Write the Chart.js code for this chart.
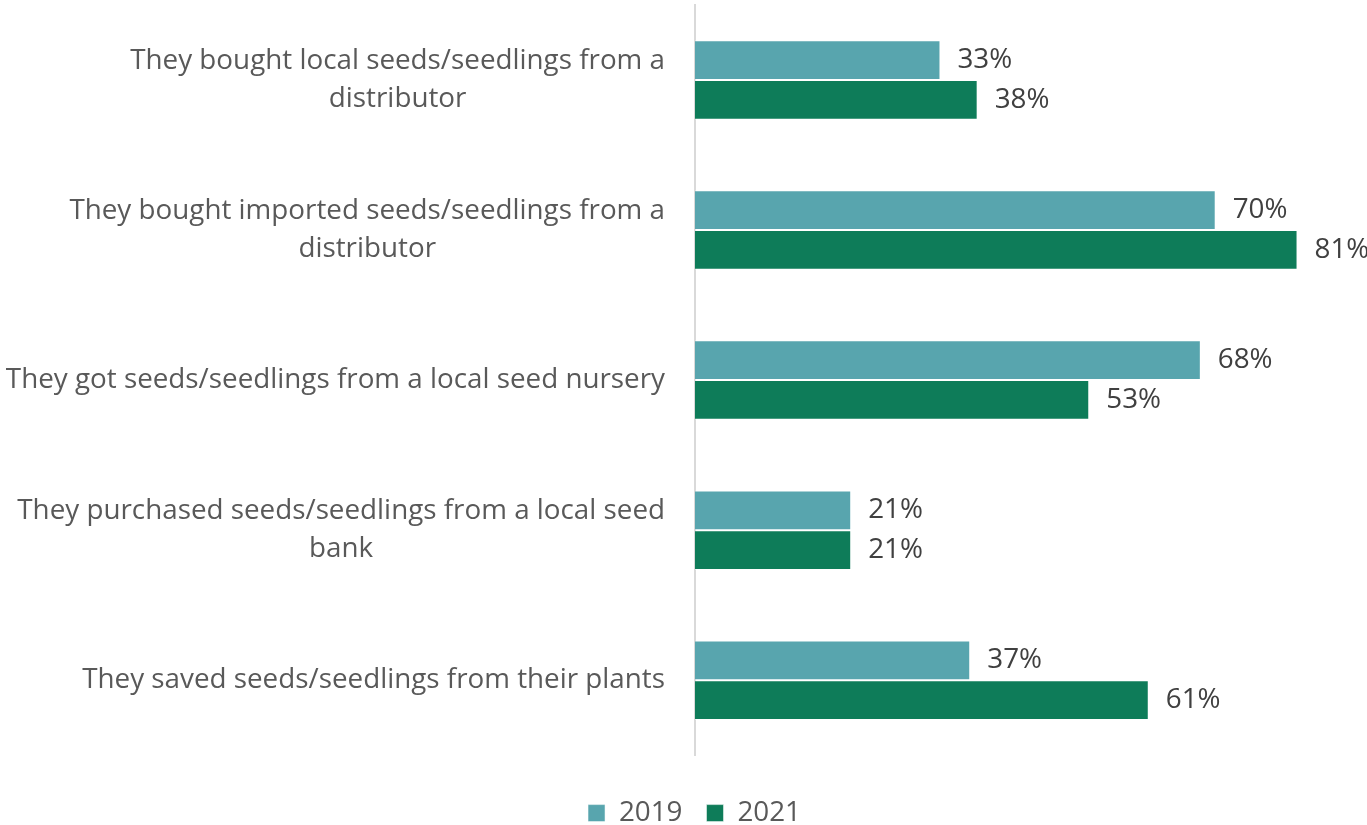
<!DOCTYPE html>
<html>
<head>
<meta charset="utf-8">
<script src="https://cdn.jsdelivr.net/npm/chart.js@4"></script>
<style>
    html, body { margin: 0; padding: 0; background: #fff; }
    #wrap { width: 1367px; height: 825px; }
</style>
</head>
<body>
<div id="wrap"><canvas id="chart" width="1367" height="825"></canvas></div>
<script>
// Chart data
const categories = [
    ['They bought local seeds/seedlings from a', 'distributor'],
    ['They bought imported seeds/seedlings from a', 'distributor'],
    'They got seeds/seedlings from a local seed nursery',
    ['They purchased seeds/seedlings from a local seed', 'bank'],
    'They saved seeds/seedlings from their plants'
];
const values2019 = [33, 70, 68, 21, 37];
const values2021 = [38, 81, 53, 21, 61];
const seriesNames = ['2019', '2021'];

const FONT = "'Open Sans', sans-serif";
const FONT_SIZE = 27.8;
const LABEL_GREY = '#595959';

// Category labels: each block right-aligned, lines centred inside the block
const categoryLabels = {
    id: 'categoryLabels',
    afterDraw: function(chart) {
        const ctx = chart.ctx;
        const yScale = chart.scales.y;
        const right = chart.chartArea.left - 30;
        const lineHeight = 38;
        ctx.save();
        ctx.font = FONT_SIZE + 'px ' + FONT;
        ctx.fillStyle = LABEL_GREY;
        ctx.textAlign = 'center';
        ctx.textBaseline = 'middle';
        categories.forEach(function(label, i) {
            const lines = Array.isArray(label) ? label : [label];
            const widest = Math.max.apply(null, lines.map(l => ctx.measureText(l).width));
            const cx = right - widest / 2;
            const cy = yScale.getPixelForTick(i);
            const startY = cy - (lines.length - 1) * lineHeight / 2;
            lines.forEach(function(line, j) {
                ctx.fillText(line, cx, startY + j * lineHeight);
            });
        });
        ctx.restore();
    }
};

// Percent labels at the end of each bar
const valueLabels = {
    id: 'valueLabels',
    afterDatasetsDraw: function(chart) {
        const ctx = chart.ctx;
        ctx.save();
        ctx.font = FONT_SIZE + 'px ' + FONT;
        ctx.fillStyle = '#404040';
        ctx.textAlign = 'left';
        ctx.textBaseline = 'middle';
        chart.data.datasets.forEach(function(ds, di) {
            chart.getDatasetMeta(di).data.forEach(function(bar, i) {
                ctx.fillText(ds.data[i] + '%', bar.x + 17, bar.y);
            });
        });
        ctx.restore();
    }
};

const chart = new Chart(document.getElementById('chart'), {
    type: 'bar',
    data: {
        labels: categories,
        datasets: [
            {
                label: seriesNames[0],
                data: values2019,
                backgroundColor: '#58A5AE',
                borderColor: 'rgba(255,255,255,0.5)',
                borderWidth: 1,
                categoryPercentage: 0.53,
                barPercentage: 1.0
            },
            {
                label: seriesNames[1],
                data: values2021,
                backgroundColor: '#0E7C59',
                borderColor: 'rgba(255,255,255,0.5)',
                borderWidth: 1,
                categoryPercentage: 0.53,
                barPercentage: 1.0
            }
        ]
    },
    options: {
        indexAxis: 'y',
        responsive: false,
        animation: false,
        layout: { padding: { top: 5, right: 4, bottom: -12, left: 26 } },
        plugins: {
            legend: {
                position: 'bottom',
                labels: {
                    color: LABEL_GREY,
                    font: { family: FONT, size: FONT_SIZE },
                    boxWidth: 17,
                    boxHeight: 17,
                    padding: 24
                }
            },
            tooltip: { enabled: false }
        },
        scales: {
            x: {
                min: 0,
                max: 89.8,
                grid: { display: false },
                border: { display: false },
                ticks: { display: false },
                afterFit: function(scale) { scale.height = 20; }
            },
            y: {
                grid: { display: false },
                border: { color: '#D9D9D9', width: 2 },
                ticks: { display: false },
                afterFit: function(scale) { scale.width = 669; }
            }
        }
    },
    plugins: [categoryLabels, valueLabels]
});
</script>
</body>
</html>
